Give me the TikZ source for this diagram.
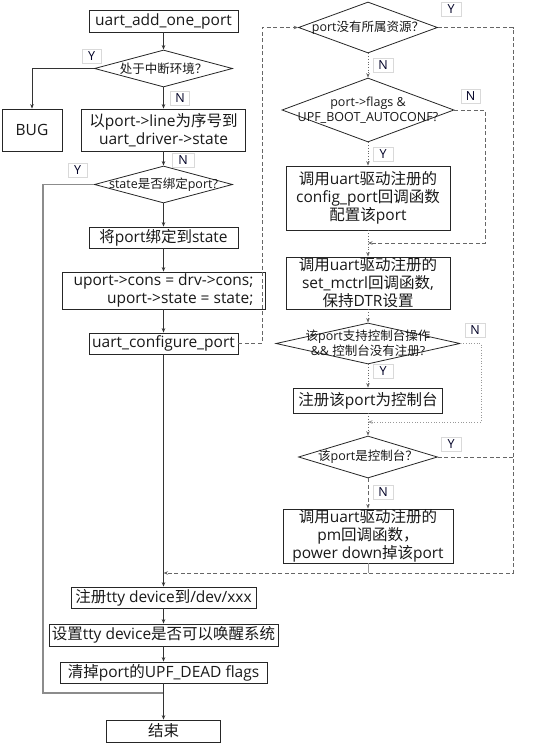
\documentclass[tikz,border=0pt]{standalone}
\usepackage{fontspec}
\setmainfont{Open Sans}
\newfontfamily\cjkfont{Noto Sans CJK SC}
\newcommand\zh[1]{{\cjkfont #1}}
\newcommand\bigf{\fontsize{15.5}{18}\selectfont}
\newcommand\smf{\fontsize{12.5}{15}\selectfont}
\usetikzlibrary{shapes.geometric,arrows.meta}
\tikzset{
  bx/.style={draw=black!85, line width=0.8pt, fill=white, inner sep=0pt, align=center, font=\bigf, text=black!90},
  dia/.style={diamond, draw=black!85, line width=0.8pt, fill=white, inner sep=0pt},
  dtext/.style={inner sep=0pt, align=center, font=\smf, text=black!90},
  lab/.style={draw=black!15, line width=0.6pt, fill=white, inner sep=0pt, minimum width=19pt, minimum height=14pt, font=\fontsize{12.5}{14}\selectfont, text=black!85!blue},
  arr/.style={draw=black!80, line width=0.7pt, -{Stealth[length=4.5pt,width=3.5pt]}},
  yline/.style={draw=black!45, line width=1.6pt},
  dsh/.style={draw=black!60, line width=0.7pt, dash pattern=on 4pt off 2.5pt},
  dsharr/.style={dsh, -{Stealth[length=4.5pt,width=3.5pt]}},
  dotarr/.style={draw=black!60, line width=0.7pt, dotted, -{Stealth[length=4.5pt,width=3.5pt,line width=0.7pt]}},
  dotlt/.style={draw=black!40, line width=0.7pt, dotted}
}
\begin{document}
\begin{tikzpicture}[x=1pt,y=-1pt]
\useasboundingbox (0,0) rectangle (554,744);
\fill[white] (0,0) rectangle (554,744);

% labels drawn first (some are partly covered)
\node[lab] (lb1) at (91.5,56.5) {Y};
\node[lab] (lb2) at (180,98) {N};
\node[lab, minimum width=22pt] (lb3) at (183,160.5) {N};
\node[lab] (lb4) at (77.5,170) {Y};
\node[lab, minimum width=20pt] (lb5) at (451,9) {Y};
\node[lab, minimum width=20pt] (lb6) at (383,65) {N};
\node[lab] (lb7) at (470.5,96) {N};
\node[lab, minimum width=20pt] (lb8) at (383,154.5) {Y};
\node[lab, minimum width=20pt] (lb9) at (475,330) {N};
\node[lab, minimum width=20pt] (lb10) at (383,371) {Y};
\node[lab, minimum width=20pt] (lb11) at (451,444) {Y};
\node[lab, minimum width=20pt] (lb12) at (383,492) {N};

% left column
\node[bx, minimum width=149pt, minimum height=22pt] (start) at (163.5,21) {uart\_add\_one\_port};
\node[dia, minimum width=138pt, minimum height=37pt] (d1) at (163.5,68.5) {};
\node[dtext] (d1t) at (d1) {\zh{处于中断环境？}};
\node[bx, minimum width=60pt, minimum height=42pt] (bug) at (32,130) {BUG};
\node[bx, minimum width=164pt, minimum height=42pt] (b2) at (163.5,130) {\zh{以}port->line\zh{为序号到}\\uart\_driver->state};
\node[dia, minimum width=138pt, minimum height=37pt] (d2) at (163.5,184.5) {};
\node[dtext] (d2t) at (d2) {state\zh{是否绑定}port?};
\node[bx, minimum width=149pt, minimum height=21pt] (bind) at (163.5,237.5) {\zh{将}port\zh{绑定到}state};
\node[bx, minimum width=203pt, minimum height=37pt, align=right] (uport) at (163.5,290.5) {uport->cons = drv->cons;\\uport->state = state;};
\node[bx, minimum width=149pt, minimum height=21pt] (conf) at (163.5,343.5) {uart\_configure\_port};
\node[bx, minimum width=185pt, minimum height=21pt] (tty1) at (163.5,597.5) {\zh{注册}tty device\zh{到}/dev/xxx};
\node[bx, minimum width=229pt, minimum height=22pt] (tty2) at (163.5,635) {\zh{设置}tty device\zh{是否可以唤醒系统}};
\node[bx, minimum width=207pt, minimum height=21pt] (clr) at (163.5,672.5) {\zh{清掉}port\zh{的}UPF\_DEAD flags};
\node[bx, minimum width=114pt, minimum height=22pt] (fin) at (163.5,731) {\zh{结束}};

% right column
\node[dia, minimum width=139pt, minimum height=51pt] (d3) at (368,27.5) {};
\node[dtext] (d3t) at (d3) {port\zh{没有所属资源？}};
\node[dia, minimum width=172pt, minimum height=64pt] (d4) at (368,110) {};
\node[dtext] (d4t) at (d4) {port->flags \&\\UPF\_BOOT\_AUTOCONF?};
\node[bx, minimum width=164pt, minimum height=64pt] (cfg) at (368,198) {\zh{调用}uart\zh{驱动注册的}\\config\_port\zh{回调函数}\\\zh{配置该}port};
\node[bx, minimum width=164pt, minimum height=52pt] (mct) at (368,283) {\zh{调用}uart\zh{驱动注册的}\\set\_mctrl\zh{回调函数},\\\zh{保持}DTR\zh{设置}};
\node[dia, minimum width=184pt, minimum height=41pt] (d5) at (368,343.5) {};
\node[dtext] (d5t) at (d5) {\zh{该}port\zh{支持控制台操作}\\\&\& \zh{控制台没有注册}?};
\node[bx, minimum width=149pt, minimum height=25pt] (regc) at (368,400.5) {\zh{注册该}port\zh{为控制台}};
\node[dia, minimum width=139pt, minimum height=42pt] (d6) at (368,457) {};
\node[dtext] (d6t) at (d6) {\zh{该}port\zh{是控制台？}};
\node[bx, minimum width=170pt, minimum height=54pt] (pm) at (368,536) {\zh{调用}uart\zh{驱动注册的}\\pm\zh{回调函数，}\\power down\zh{掉该}port};

% helper coordinates
\coordinate (lc) at (43,693);
\coordinate (mj) at (163.5,693);
\coordinate (c2) at (262,27.5);
\coordinate (r1) at (513,27.5);
\coordinate (r2) at (513,573);
\coordinate (m573) at (163.5,573);
\coordinate (n2) at (485,243);
\coordinate (m243) at (368,243);
\coordinate (q2) at (481,422);
\coordinate (m422) at (368,422);
\coordinate (r3) at (513,457);
\coordinate (p573) at (368,573);

% left connectors
\draw[arr] (start) -- (d1);
\draw[arr] (d1.west) -| (bug.north);
\draw[arr] (d1) -- (b2);
\draw[arr] (b2) -- (d2);
\draw[yline] (d2.west) -| (lc) -- (mj);
\draw[arr] (d2) -- (bind);
\draw[arr] (bind) -- (uport);
\draw[arr] (uport) -- (conf);
\draw[arr] (conf) -- (tty1);
\draw[arr] (tty1) -- (tty2);
\draw[arr] (tty2) -- (clr);
\draw[arr] (clr) -- (fin);

% right connectors
\draw[dsharr] (conf.east) -| (c2) -- (d3.west);
\draw[dsharr] (d3.east) -- (r1) -- (r2) -- (m573);
\draw[dotarr] (d3) -- (d4);
\draw[dsharr] (d4.east) -| (n2) -- (m243);
\draw[dotarr] (d4) -- (cfg);
\draw[dotarr] (cfg) -- (mct);
\draw[dotarr] (mct) -- (d5);
\draw[dotlt, -{Stealth[length=4.5pt,width=3.5pt]}] (d5.east) -| (q2) -- (m422);
\draw[dotarr] (d5) -- (regc);
\draw[dotarr] (regc) -- (d6);
\draw[dsh] (d6.east) -- (r3);
\draw[dsharr] (d6) -- (pm);
\draw[draw=black!40, line width=0.7pt] (pm) -- (p573);
\end{tikzpicture}
\end{document}
